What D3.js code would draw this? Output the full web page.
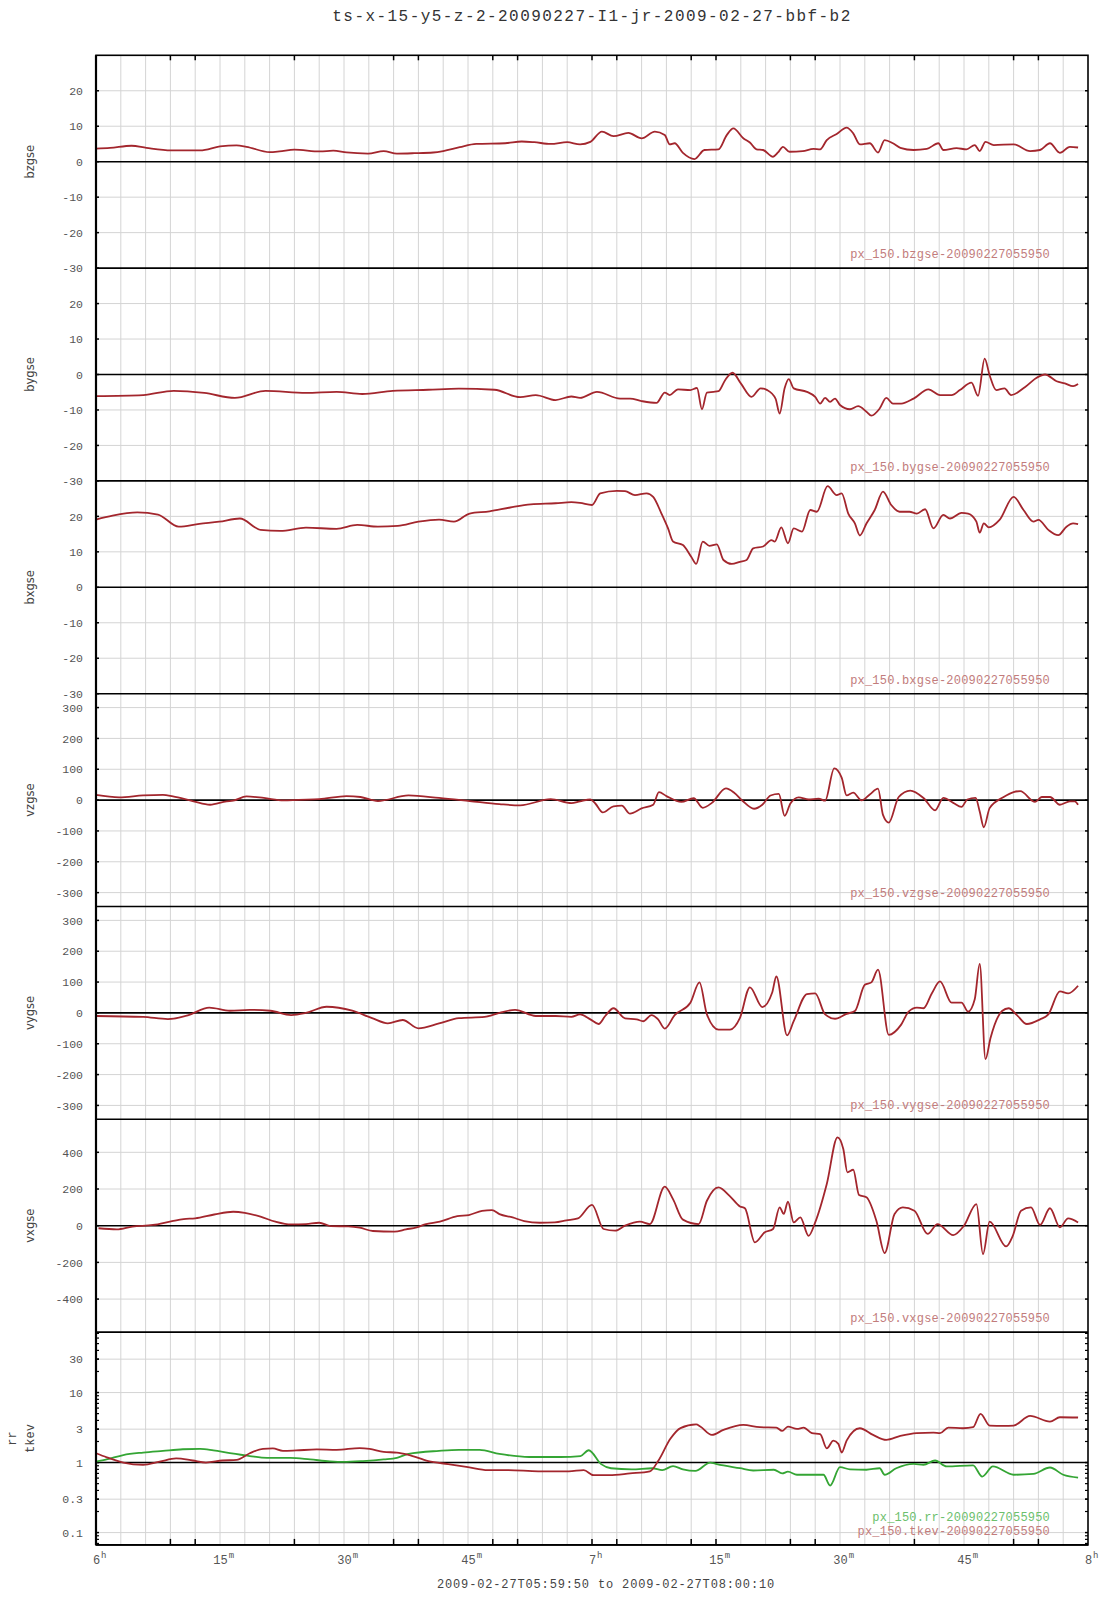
<!DOCTYPE html>
<html><head><meta charset="utf-8">
<script src="https://cdn.jsdelivr.net/npm/d3@7"></script>
<style>body{margin:0;background:#fff}</style>
</head><body><svg id="c" width="1107" height="1600"></svg>
<script>
// ---- data: [minutes after 06:00, value] ----
const bzgse = [[0,3.7],[1.7,3.9],[4.3,4.5],[6.1,3.9],[9.1,3.2],[12.6,3.2],[15,4.3],[17,4.6],[18.2,4.2],[21,2.7],[22.2,2.9],[24,3.4],[27.1,2.9],[28.7,3.1],[30.3,2.6],[32.9,2.3],[34.8,3.0],[36.4,2.3],[38.5,2.4],[40.8,2.6],[42,3.0],[44,4.1],[46,5.0],[49.5,5.2],[51.5,5.7],[53,5.5],[55,5.0],[57,5.5],[58.55,4.9],[59.8,5.6],[61.2,8.5],[62.6,7.2],[64.4,8.1],[66,6.6],[67.6,8.5],[68.8,7.5],[69.4,4.9],[70,5.2],[71,2.5],[72.4,0.75],[73.6,3.3],[75.3,3.5],[76.3,7.5],[77.1,9.4],[78.3,6.6],[79.1,5.4],[79.9,3.5],[80.7,3.3],[81.9,1.4],[82.5,2.6],[83.1,4.2],[83.9,2.8],[85.5,3.0],[86.8,3.6],[87.6,3.5],[88.4,6.1],[89.6,7.8],[90.8,9.6],[91.6,8.0],[92.4,4.9],[93.6,5.2],[94.6,2.6],[95.4,6.1],[96.4,5.2],[97.3,3.9],[98.9,3.3],[100.5,3.6],[101.9,5.2],[102.5,3.3],[104.1,3.8],[105.3,3.5],[106.3,4.7],[106.9,3.0],[107.6,5.6],[108.6,4.7],[111,4.9],[113,3.0],[114.2,3.3],[115.4,5.2],[116.6,2.5],[117.8,4.2],[118.8,4.0]];
const bygse = [[0,-6.1],[5.7,-5.8],[9.4,-4.6],[13.1,-5.2],[16.8,-6.6],[20.5,-4.6],[25.4,-5.2],[29.1,-4.9],[32.2,-5.5],[35.9,-4.6],[40.2,-4.3],[43.9,-4.0],[48.2,-4.3],[51.3,-6.4],[53.2,-5.8],[55.6,-7.2],[57.5,-6.2],[58.55,-6.6],[60.6,-4.9],[63.4,-6.8],[64.6,-6.8],[66,-7.5],[67.8,-8.0],[68.8,-5.1],[69.4,-5.8],[70.4,-4.2],[71.9,-4.4],[72.7,-3.8],[73.3,-9.8],[73.9,-5.1],[74.7,-4.9],[75.3,-4.7],[76.1,-1.6],[77,0.5],[78,-2.5],[79.3,-6.3],[80.4,-3.9],[81.2,-4.4],[82.2,-6.8],[82.7,-11.0],[83.3,-3.9],[83.8,-1.3],[84.4,-3.9],[86,-4.9],[87,-6.3],[87.6,-8.2],[88.2,-6.6],[88.8,-7.7],[89.4,-6.8],[90,-8.6],[91.2,-9.8],[92.2,-8.9],[93.2,-10.5],[93.8,-11.6],[94.8,-9.6],[95.6,-6.6],[96.4,-8.2],[97.4,-8.2],[98.9,-6.8],[100.7,-4.2],[102.1,-5.8],[103.5,-5.8],[104.5,-4.4],[105.9,-2.3],[106.7,-6.0],[107.5,4.5],[108.1,-0.2],[108.9,-4.4],[109.9,-3.9],[110.7,-5.8],[112.4,-3.5],[113.8,-0.9],[114.8,0],[116.2,-1.9],[117.2,-2.5],[118.2,-3.3],[118.8,-2.7]];
const bxgse = [[0,19.1],[2,20.2],[5,21.1],[7.5,20.5],[10,17.1],[12.5,17.9],[14.9,18.5],[17.4,19.4],[19.9,16.2],[22.3,15.9],[25.4,16.8],[29.1,16.5],[31.6,17.6],[34.1,17.1],[36.5,17.3],[39,18.5],[41.5,19.1],[43.3,18.5],[45.2,20.8],[47.6,21.4],[50.1,22.5],[52.6,23.4],[55.6,23.7],[57.5,24.0],[58.55,23.8],[60,23.2],[61,26.5],[63,27.2],[64,27.1],[65.2,26],[66.6,26.5],[67.4,25.5],[68.4,20.8],[69.2,16.6],[69.8,12.9],[71,11.9],[72,8.6],[72.6,6.6],[73.4,12.9],[74.2,11.7],[75.1,12.1],[75.9,7.7],[76.9,6.6],[77.9,7.2],[78.7,7.7],[79.5,11],[80.7,11.5],[81.7,13.3],[82.1,12.9],[82.9,16.9],[83.7,12.4],[84.4,16.6],[85.4,15.7],[86.4,21.8],[87.2,21.3],[88.5,28.5],[89.6,26],[90.2,26.5],[91,20.8],[91.8,18],[92.4,14.6],[93.2,18],[94.2,21.8],[95.2,27],[96.2,23.2],[97.2,21.3],[98.4,21.3],[99.3,20.8],[100.3,22],[101.3,16.6],[102.5,20.4],[103.3,19.4],[104.7,21],[105.5,20.8],[106.5,18.5],[106.9,15.4],[107.4,18],[108,16.9],[109.3,19],[111,25.5],[112.2,21.8],[113.4,18.5],[114,19],[115.2,16.2],[116.4,14.7],[117.4,17.1],[118.2,18],[118.8,17.8]];
const vzgse = [[0,17],[2.8,9],[5.7,15],[8.1,17],[9.3,12],[11.8,-4],[13.8,-15],[15.8,-4],[16.6,-2],[18.2,12],[20.3,7],[22.7,-1],[24.5,1],[27,3],[30.3,13],[32,10],[34.1,-3],[37.8,15],[41.5,7],[45.2,-3],[48.8,-13],[51.3,-17],[55,3],[57.5,-10],[58.55,-4],[59.8,2],[60.4,-11],[61.3,-40],[62.6,-20],[63.6,-18],[64.6,-44],[66,-27],[67.4,-15],[68.1,26],[69,13],[70.8,-6],[72.3,6],[73.4,-25],[74.5,-9],[76.2,38],[77.2,24],[78.2,-2],[79.6,-28],[80.6,-15],[81.6,15],[82.6,20],[83.3,-51],[84,-11],[85,9],[86.2,2],[87.4,5],[88.2,-2],[89.3,103],[90.2,73],[90.8,15],[91.6,24],[92.6,-1],[93.6,18],[94.6,37],[95.2,-48],[95.9,-73],[97.1,10],[98.5,31],[100.1,7],[101.5,-33],[102.5,7],[103.7,-9],[104.7,-22],[105.4,2],[106.4,7],[106.9,-37],[107.4,-88],[108.1,-26],[109.8,10],[111,26],[111.8,29],[113.6,-6],[114.4,10],[115.4,10],[116.6,-15],[117.8,-4],[118.4,-4],[118.8,-15]];
const vygse = [[0,-10],[5.7,-13],[8.7,-20],[11.2,-7],[13.7,17],[16.2,7],[18.6,10],[21.1,7],[23.6,-7],[25.4,0],[27.9,20],[31,7],[33.4,-17],[35.3,-34],[37.1,-23],[39,-50],[41.5,-34],[43.9,-17],[47,-13],[48.8,0],[50.7,10],[53.2,-10],[55.6,-10],[57.5,-13],[58.55,-5],[59.8,-21],[60.8,-36],[61.6,-10],[62.6,15],[64,-18],[65.4,-21],[66.2,-27],[67.2,-7],[68,-21],[68.8,-51],[70,-7],[71.9,33],[73,99],[73.9,-5],[75.3,-54],[76.7,-54],[77.9,-16],[79.1,83],[80.6,19],[81.8,66],[82.3,118],[83.6,-73],[84.4,-27],[86,61],[87,63],[88.2,-5],[89.4,-19],[90.8,-3],[91.8,6],[93,91],[93.8,99],[94.6,140],[95.9,-71],[97.4,-38],[98.3,4],[99.3,17],[100.1,15],[101.1,63],[102.1,102],[103.5,33],[104.7,33],[105.5,4],[106.3,44],[106.9,159],[107.6,-150],[108.2,-82],[109.6,6],[110.4,15],[111.4,-7],[112.6,-36],[114.2,-21],[115.2,-5],[116.6,70],[117.6,63],[118.8,88]];
const vxgse = [[0.3,-14],[2.5,-20],[4.4,-5],[6.9,4],[9.2,25],[10.6,36],[12,40],[14.3,61],[16.6,76],[18,70],[19.9,49],[21.7,22],[23.6,7],[25.4,9],[27,16],[28.4,-2],[30.5,-4],[31.9,-11],[33.5,-29],[36.1,-32],[37.5,-20],[38.8,-9],[39.8,7],[41.6,22],[43.7,52],[45.1,58],[46.7,81],[47.9,85],[48.8,63],[50.4,45],[51.8,25],[53.7,16],[55.5,18],[56.9,29],[58.3,40],[60,113],[61.4,-18],[62.8,-27],[64,0],[65.8,22],[67,9],[68.8,213],[69.8,145],[71,33],[72.9,9],[73.9,136],[75.3,209],[76.7,160],[77.9,105],[78.5,95],[79.7,-91],[80.9,-36],[81.9,-18],[82.7,100],[83.2,64],[83.7,131],[84.4,18],[85.2,45],[86.2,-55],[87,18],[88.4,227],[89.7,482],[90.4,418],[90.9,291],[91.6,305],[92.3,167],[93.2,155],[94.4,27],[95.4,-149],[96.6,64],[97.6,100],[99,82],[100.6,-45],[101.8,9],[103.7,-51],[105,0],[106.5,118],[107.3,-155],[108.1,22],[110.1,-113],[110.9,-55],[111.9,82],[113.1,100],[114.2,4],[115.4,95],[116.6,-9],[117.6,40],[118.8,18]];
const tkev = [[0,1.36],[1.3,1.19],[3.3,1.0],[5.7,0.93],[7.7,1.03],[9.7,1.15],[11.7,1.07],[13.3,1.0],[15.3,1.07],[17,1.09],[18.6,1.36],[20.2,1.57],[21.4,1.59],[22.6,1.47],[24.2,1.49],[26.7,1.54],[29.1,1.52],[31.9,1.61],[33.1,1.57],[34.8,1.42],[36.4,1.39],[37.8,1.29],[40.2,1.05],[42.6,0.95],[45,0.86],[47.4,0.78],[49.9,0.78],[53.5,0.75],[57.2,0.75],[59,0.78],[60.2,0.66],[62.1,0.66],[64.6,0.70],[67,0.75],[68,1.05],[69.5,2.2],[70.7,3.1],[72.6,3.5],[73.1,3.27],[74.5,2.48],[75.9,2.93],[78.3,3.45],[80.3,3.2],[82.3,3.16],[83,2.83],[83.7,3.27],[84.8,3.02],[85.6,3.16],[86.6,2.63],[87.6,2.54],[88.4,1.6],[89.2,2.06],[89.8,1.85],[90.2,1.39],[90.8,2.06],[92.4,3.09],[94,2.48],[95.6,2.11],[97.3,2.4],[99.3,2.63],[101.3,2.68],[102.1,2.63],[103.1,3.16],[104.9,3.09],[106.1,3.2],[107,4.96],[108.1,3.38],[109.8,3.34],[111,3.38],[113,4.64],[115.4,3.85],[116.6,4.44],[118.8,4.4]];
const rr = [[0,1.03],[1.3,1.11],[3.3,1.28],[5.7,1.39],[8.1,1.47],[10.5,1.55],[12.6,1.57],[14.2,1.49],[16.2,1.36],[18.6,1.24],[20.7,1.17],[23.5,1.17],[25.9,1.11],[28.3,1.04],[29.9,1.02],[32.3,1.05],[34.8,1.11],[36.4,1.17],[37.8,1.33],[41.5,1.47],[43.9,1.52],[46.4,1.52],[48.8,1.33],[52.4,1.2],[56.2,1.2],[58.6,1.24],[59.6,1.5],[61.1,0.95],[62.3,0.83],[64.8,0.80],[67.3,0.83],[68.5,0.78],[69.8,0.89],[71,0.8],[72.5,0.76],[74.3,1.0],[75.1,0.95],[77.9,0.83],[79.5,0.77],[82,0.79],[83,0.70],[83.7,0.74],[84.8,0.67],[86.4,0.67],[88,0.67],[88.8,0.47],[90,0.86],[91.2,0.80],[93.2,0.79],[94.8,0.83],[95.4,0.67],[96.8,0.83],[98.9,0.96],[100.1,0.93],[101.5,1.07],[102.9,0.88],[106.1,0.91],[107.2,0.63],[108.5,0.88],[111,0.67],[113.4,0.69],[115.4,0.85],[117,0.67],[118.8,0.61]];

// ---- tick labels ----
const bTicks = [20,10,0,-10,-20,-30];
const vTicks = [300,200,100,0,-100,-200,-300];
const vxTicks = [400,200,0,-200,-400];
const logTicks = [30,10,3,1,0.3,0.1];
const timeTicks = [0,15,30,45,60,75,90,105,120];
const timeLabels = [["6","h"],["15","m"],["30","m"],["45","m"],["7","h"],["15","m"],["30","m"],["45","m"],["8","h"]];
const edgeTickMinutes = [9,12,24,36,39,48,51,60,63,72,75,84,87,99,111,114];
const titleText = "ts-x-15-y5-z-2-20090227-I1-jr-2009-02-27-bbf-b2";
const rangeText = "2009-02-27T05:59:50 to 2009-02-27T08:00:10";

const RED = "#a3262d", GREEN = "#34a534";
const RED_TXT = "#c27c7c", GREEN_TXT = "#6cc06c";
const MONO = "'Liberation Mono','DejaVu Sans Mono',monospace";
const SANS = "'DejaVu Sans',Verdana,sans-serif";

const panels = [
  {name:["bzgse"], type:"lin", domain:[-30,30], ticks:bTicks, ref:0, series:[{d:bzgse,c:RED,lab:"px_150.bzgse-20090227055950",lc:RED_TXT}]},
  {name:["bygse"], type:"lin", domain:[-30,30], ticks:bTicks, ref:0, series:[{d:bygse,c:RED,lab:"px_150.bygse-20090227055950",lc:RED_TXT}]},
  {name:["bxgse"], type:"lin", domain:[-30,30], ticks:bTicks, ref:0, series:[{d:bxgse,c:RED,lab:"px_150.bxgse-20090227055950",lc:RED_TXT}]},
  {name:["vzgse"], type:"lin", domain:[-345,345], ticks:vTicks, ref:0, series:[{d:vzgse,c:RED,lab:"px_150.vzgse-20090227055950",lc:RED_TXT}]},
  {name:["vygse"], type:"lin", domain:[-345,345], ticks:vTicks, ref:0, series:[{d:vygse,c:RED,lab:"px_150.vygse-20090227055950",lc:RED_TXT}]},
  {name:["vxgse"], type:"lin", domain:[-580,580], ticks:vxTicks, ref:0, series:[{d:vxgse,c:RED,lab:"px_150.vxgse-20090227055950",lc:RED_TXT}]},
  {name:["rr","tkev"], type:"log", domain:[0.0667,73], ticks:logTicks, ref:1, series:[{d:rr,c:GREEN,lab:"px_150.rr-20090227055950",lc:GREEN_TXT},{d:tkev,c:RED,lab:"px_150.tkev-20090227055950",lc:RED_TXT}]}
];

const L = 96, R = 1088, T = 55.3, PH = 212.8, B = T + 7*PH;
const svg = d3.select("#c");
const x = d3.scaleLinear().domain([0,120]).range([L,R]);

// title
svg.append("text").attr("x",592).attr("y",21).attr("text-anchor","middle")
  .attr("font-family",MONO).attr("font-size",16).attr("letter-spacing",1.45)
  .attr("fill","#333").text(titleText);

// vertical grid
svg.append("g").selectAll("line").data(d3.range(3,120,3)).join("line")
  .attr("x1",d=>x(d)).attr("x2",d=>x(d)).attr("y1",T).attr("y2",B)
  .attr("stroke","#d4d4d4").attr("stroke-width",1);

const fmt = v => (v<1 && v>0) ? String(v) : String(v);

panels.forEach((p,i)=>{
  const y0 = T + i*PH;
  const y = (p.type==="log" ? d3.scaleLog() : d3.scaleLinear()).domain(p.domain).range([y0+PH, y0]);
  const g = svg.append("g");
  // horizontal grid
  g.selectAll("line.hg").data(p.ticks.filter(t=>t!==p.ref && Math.abs(y(t)-(y0+PH))>1)).join("line")
    .attr("x1",L).attr("x2",R).attr("y1",d=>y(d)).attr("y2",d=>y(d))
    .attr("stroke","#d4d4d4").attr("stroke-width",1);
  // reference line
  g.append("line").attr("x1",L).attr("x2",R).attr("y1",y(p.ref)).attr("y2",y(p.ref))
    .attr("stroke","#000").attr("stroke-width",1.6);
  // panel bottom boundary
  g.append("line").attr("x1",L).attr("x2",R).attr("y1",y0+PH).attr("y2",y0+PH)
    .attr("stroke","#000").attr("stroke-width",1.6);
  // y axis labels via d3 axis
  const ax = d3.axisLeft(y).tickValues(p.ticks).tickSize(0).tickPadding(13).tickFormat(fmt);
  const ag = g.append("g").attr("transform",`translate(${L},0)`).call(ax);
  ag.select(".domain").remove();
  ag.selectAll("text").attr("font-family",MONO).attr("font-size",11.5).attr("fill","#555");
  // small inner ticks left & right
  g.selectAll("line.lt").data(p.ticks).join("line")
    .attr("x1",L).attr("x2",L+3).attr("y1",d=>y(d)).attr("y2",d=>y(d)).attr("stroke","#000").attr("stroke-width",1.5);
  g.selectAll("line.rt").data(p.ticks).join("line")
    .attr("x1",R-3).attr("x2",R).attr("y1",d=>y(d)).attr("y2",d=>y(d)).attr("stroke","#000").attr("stroke-width",1.5);
  if (p.type==="log") {
    const minors = [];
    [0.01,0.1,1,10].forEach(dec=>{ for(let k=2;k<=9;k++){ const v=dec*k; if(v>p.domain[0]&&v<p.domain[1]) minors.push(v);} });
    g.selectAll("line.lm").data(minors).join("line")
      .attr("x1",L).attr("x2",L+3).attr("y1",d=>y(d)).attr("y2",d=>y(d)).attr("stroke","#000").attr("stroke-width",1.2);
    g.selectAll("line.rm").data(minors).join("line")
      .attr("x1",R-3).attr("x2",R).attr("y1",d=>y(d)).attr("y2",d=>y(d)).attr("stroke","#000").attr("stroke-width",1.2);
  }
  // series
  const line = d3.line().x(d=>x(d[0])).y(d=>y(d[1])).curve(d3.curveMonotoneX);
  p.series.forEach(s=>{
    g.append("path").datum(s.d).attr("d",line).attr("fill","none")
      .attr("stroke",s.c).attr("stroke-width",1.8).attr("stroke-linejoin","round");
  });
  // legend labels
  const nS = p.series.length;
  p.series.forEach((s,k)=>{
    g.append("text").attr("x",1050).attr("y",y0+PH-10-(nS-1-k)*14).attr("text-anchor","end")
      .attr("font-family",MONO).attr("font-size",12).attr("letter-spacing",0.2)
      .attr("fill",s.lc).text(s.lab);
  });
  // axis title
  const cy = y0 + PH/2;
  if (p.name.length===1) {
    g.append("text").attr("transform",`translate(34,${cy}) rotate(-90)`).attr("text-anchor","middle")
      .attr("font-family",SANS).attr("font-size",11.5).attr("fill","#444").text(p.name[0]);
  } else {
    p.name.forEach((n,k)=>{
      g.append("text").attr("transform",`translate(${16+k*18},${cy}) rotate(-90)`).attr("text-anchor","middle")
        .attr("font-family",MONO).attr("font-size",12).attr("fill","#444").text(n);
    });
  }
});

// top & bottom edge ticks
svg.append("g").selectAll("line").data(edgeTickMinutes).join("line")
  .attr("x1",d=>x(d)).attr("x2",d=>x(d)).attr("y1",T).attr("y2",T+5).attr("stroke","#000").attr("stroke-width",1.5);
svg.append("g").selectAll("line").data(edgeTickMinutes).join("line")
  .attr("x1",d=>x(d)).attr("x2",d=>x(d)).attr("y1",B-6).attr("y2",B).attr("stroke","#000").attr("stroke-width",1.5);

// frame
svg.append("rect").attr("x",L).attr("y",T).attr("width",R-L).attr("height",B-T)
  .attr("fill","none").attr("stroke","#000").attr("stroke-width",1.6);
svg.append("line").attr("x1",L).attr("x2",L).attr("y1",T).attr("y2",B).attr("stroke","#000").attr("stroke-width",2.2);

// time axis labels via d3 axis
const xa = d3.axisBottom(x).tickValues(timeTicks).tickSize(0).tickFormat("");
const xg = svg.append("g").attr("transform",`translate(0,${B})`).call(xa);
xg.select(".domain").remove();
xg.selectAll(".tick").each(function(d,i){
  const t = d3.select(this);
  const [num,sup] = timeLabels[i];
  const w = num.length*7.2;
  t.append("text").attr("x",0).attr("y",19).attr("text-anchor","middle")
    .attr("font-family",MONO).attr("font-size",12).attr("fill","#555").text(num);
  t.append("text").attr("x",w/2+1).attr("y",13).attr("text-anchor","start")
    .attr("font-family",MONO).attr("font-size",9).attr("fill","#555").text(sup);
});

svg.append("text").attr("x",606).attr("y",1588).attr("text-anchor","middle")
  .attr("font-family",MONO).attr("font-size",12).attr("letter-spacing",0.85)
  .attr("fill","#444").text(rangeText);
</script></body></html>
